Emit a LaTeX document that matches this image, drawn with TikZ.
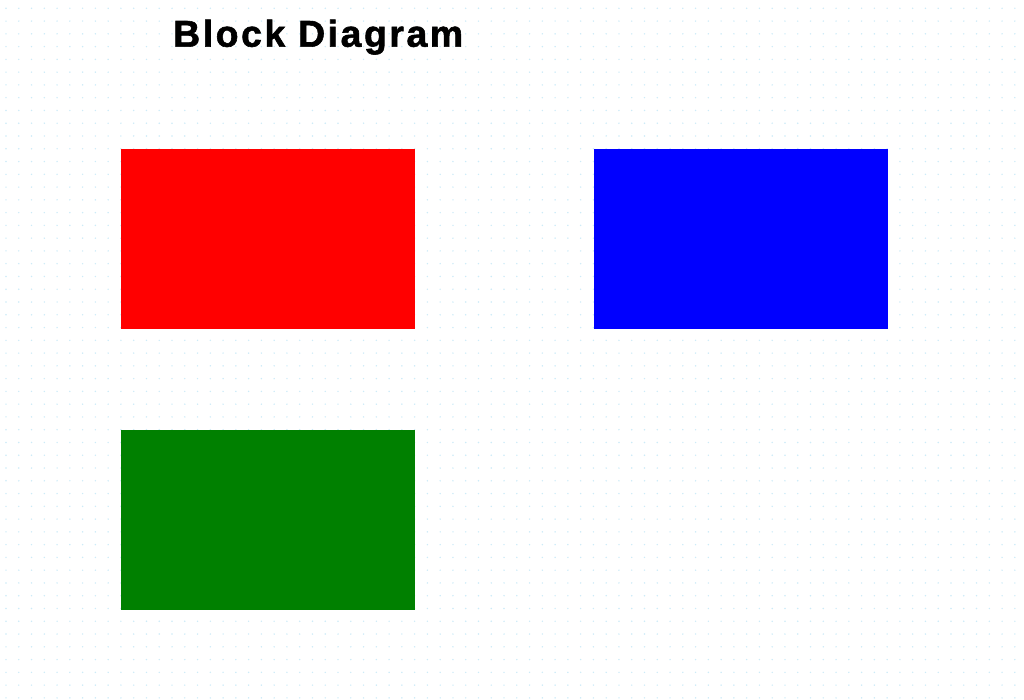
\documentclass[tikz,border=0pt]{standalone}
\usepackage{fontspec}
\newfontfamily\titlefont[LetterSpace=7,FakeBold=1.6]{Liberation Sans}
\definecolor{dotc}{RGB}{205,235,248}
\definecolor{bred}{RGB}{255,0,0}
\definecolor{bblue}{RGB}{0,0,255}
\definecolor{bgreen}{RGB}{0,128,0}
\tikzset{
  block/.style={rectangle, inner sep=0pt, outer sep=0pt, draw=none,
    minimum width=294pt, minimum height=180pt, anchor=north west},
  gdot/.style={fill=dotc, draw=none},
  titlestyle/.style={inner sep=0pt, anchor=base west,
    font=\titlefont\bfseries\fontsize{37.3pt}{40pt}\selectfont}
}
\begin{document}
\begin{tikzpicture}[x=1pt,y=-1pt]
\useasboundingbox[fill=white] (0,0) rectangle (1024,700);
\foreach \i in {0,...,79}{
  \foreach \j in {0,...,54}{
    \fill[gdot] ({6+12.77*\i},{8.3+12.77*\j}) circle (0.8pt);
  }
}
\node[titlestyle] (title) at (173,46.7) {Block Diagram};
\node[block, fill=bred] (red) at (121,149) {};
\node[block, fill=bblue] (blue) at (593.5,149) {};
\node[block, fill=bgreen] (green) at (121,430) {};
\end{tikzpicture}
\end{document}
